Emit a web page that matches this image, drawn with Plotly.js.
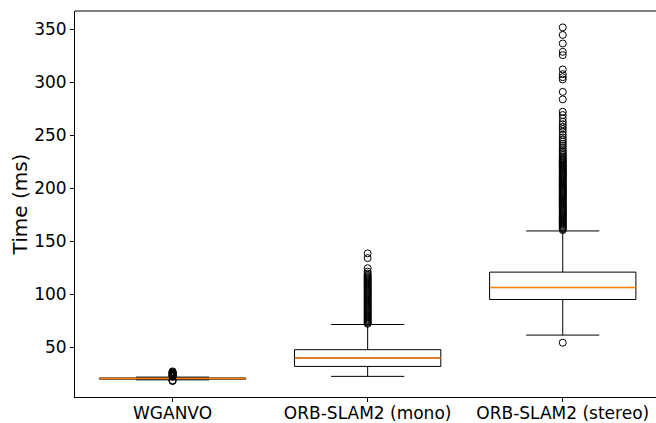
<!DOCTYPE html>
<html>
<head>
<meta charset="utf-8">
<script src="https://cdn.plot.ly/plotly-3.0.1.min.js"></script>
<style>html,body{margin:0;padding:0;background:#fff;}#chart{width:656px;height:423px;}</style>
</head>
<body>
<div id="chart"></div>
<script>
// ---- data ----
var categories = ["WGANVO", "ORB-SLAM2 (mono)", "ORB-SLAM2 (stereo)"];
var positions = [1, 2, 3];
var q1 = [19.7, 31.7, 94.9];
var medians = [20.2, 39.6, 106.2];
var q3 = [20.8, 47.5, 120.8];
var lowerWhisker = [19.0, 22.3, 61.3];
var upperWhisker = [21.6, 71.3, 159.7];

var outliersWganvo = [17.9, 18.2, 18.5, 22.0, 22.4, 22.8, 23.2, 23.6, 24.0, 24.4, 24.8, 25.2, 25.6, 26.0, 26.5, 27.0];
var outliersMono = [72.0, 73.0, 74.0, 75.0, 76.0, 77.0, 78.0, 79.0, 80.0, 81.0, 82.0, 83.0, 84.0, 85.0, 86.0, 87.0, 88.0, 89.0, 90.0, 91.0, 92.0, 93.0, 94.0, 95.0, 96.0, 97.0, 98.0, 99.0, 100.0, 101.0, 102.0, 103.0, 104.0, 105.0, 106.0, 107.0, 108.0, 109.0, 110.0, 111.0, 112.0, 113.0, 114.0, 115.0, 116.0, 117.0, 118.0, 119.5, 121.3, 124.5, 134.0, 138.5];
var outliersStereo = [54.1, 160.5, 161.5, 162.5, 163.5, 164.5, 165.5, 166.5, 167.5, 168.5, 169.5, 170.5, 171.5, 172.5, 173.5, 174.5, 175.5, 176.5, 177.5, 178.5, 179.5, 180.5, 181.5, 182.5, 183.5, 184.5, 185.5, 186.5, 187.5, 188.5, 189.5, 190.5, 191.5, 192.5, 193.5, 194.5, 195.5, 196.5, 197.5, 198.5, 199.5, 200.5, 201.5, 202.5, 203.5, 204.5, 205.5, 206.5, 207.5, 208.5, 209.5, 210.5, 211.5, 212.5, 213.5, 214.5, 215.5, 216.5, 217.5, 218.5, 219.5, 220.5, 221.5, 222.5, 223.5, 224.5, 225.5, 226.5, 227.5, 228.5, 230.0, 231.5, 233.0, 234.5, 236.0, 238.0, 240.0, 242.0, 244.0, 246.0, 248.0, 250.5, 253.4, 256.0, 258.1, 260.5, 262.8, 266.0, 269.2, 272.3, 284.0, 291.1, 302.8, 305.0, 307.8, 312.3, 325.8, 328.9, 336.8, 344.9, 352.0];
var outliers = [outliersWganvo, outliersMono, outliersStereo];
var yTicks = [50, 100, 150, 200, 250, 300, 350];

// ---- traces ----
var font = "DejaVu Sans, sans-serif";
var traces = [];
for (var i = 0; i < categories.length; i++) {
  traces.push({
    type: "box", x: [positions[i]], q1: [q1[i]], median: [medians[i]], q3: [q3[i]],
    lowerfence: [lowerWhisker[i]], upperfence: [upperWhisker[i]],
    width: 0.75, whiskerwidth: 0.5, boxpoints: false,
    fillcolor: "rgba(0,0,0,0)", line: {color: "#000000", width: 1},
    hoverinfo: "skip", showlegend: false
  });
}
for (var i = 0; i < categories.length; i++) {
  traces.push({
    type: "scatter", mode: "markers",
    x: outliers[i].map(function () { return positions[i]; }),
    y: outliers[i],
    marker: {symbol: "circle-open", size: 7, color: "#000000", line: {width: 1, color: "#000000"}},
    hoverinfo: "skip", showlegend: false
  });
}
for (var i = 0; i < categories.length; i++) {
  traces.push({
    type: "box", x: [positions[i]], q1: [medians[i]], median: [medians[i]], q3: [medians[i]],
    lowerfence: [medians[i]], upperfence: [medians[i]],
    width: 0.75, whiskerwidth: 0, boxpoints: false,
    fillcolor: "rgba(0,0,0,0)", line: {color: "#ff7f0e", width: 1.5},
    hoverinfo: "skip", showlegend: false
  });
}

var layout = {
  width: 656, height: 423,
  margin: {l: 75, r: 0, t: 11, b: 26, pad: 0},
  paper_bgcolor: "#ffffff", plot_bgcolor: "#ffffff",
  boxmode: "overlay",
  showlegend: false,
  font: {family: font, size: 17, color: "#000000"},
  xaxis: {
    range: [0.5, 3.478], tickmode: "array", tickvals: positions, ticktext: categories,
    showgrid: false, zeroline: false, showline: true, linecolor: "#000000", linewidth: 1,
    ticks: "outside", ticklen: 4, tickcolor: "#000000", tickfont: {family: font, size: 17},
    ticklabelstandoff: -3
  },
  yaxis: {
    range: [2.8, 367.5], tickmode: "array", tickvals: yTicks,
    showgrid: false, zeroline: false, showline: true, linecolor: "#000000", linewidth: 1,
    ticks: "outside", ticklen: 4, tickcolor: "#000000", tickfont: {family: font, size: 17},
    title: {text: "Time (ms)", font: {family: font, size: 20}, standoff: 1}
  },
  shapes: [{type: "line", xref: "paper", yref: "paper", x0: 0, x1: 1, y0: 1, y1: 1, line: {color: "#000000", width: 1}}]
};

Plotly.newPlot("chart", traces, layout, {staticPlot: true, displayModeBar: false});
</script>
</body>
</html>
